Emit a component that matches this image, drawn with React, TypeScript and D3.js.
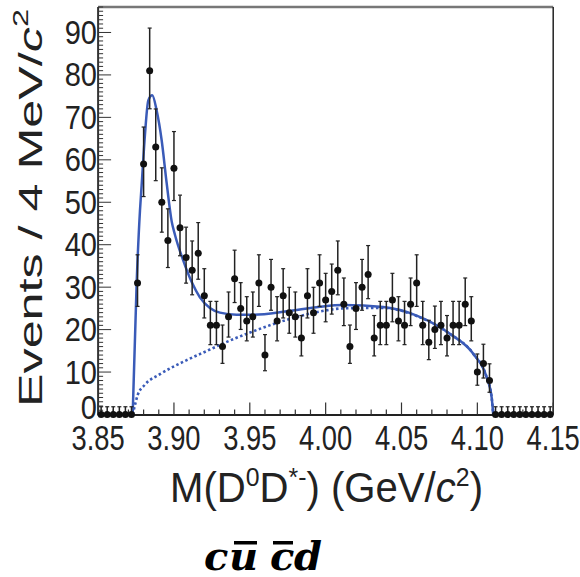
import React from 'react';
import * as d3 from 'd3';

// Events per 4 MeV bin, bins from 3.850 to 4.150 GeV
const counts: number[] = [
  0, 0, 0, 0, 0, 0,
  31, 59, 81, 63, 50, 41, 58, 44, 37, 34, 38, 28, 21, 21,
  16, 23, 32, 25, 22, 23, 31, 14, 30, 22, 28, 24, 23, 18,
  28, 24, 31, 27, 29, 34, 26, 16, 25, 30, 33, 18, 21, 21,
  27, 22, 21, 26, 31, 21, 17, 20, 21, 18, 21, 21, 26, 22,
  10, 12, 8,
  0, 0, 0, 0, 0, 0, 0, 0, 0, 0,
];
const binStart = 3.85;
const binWidth = 0.004;

// total fit curve
const fitMass: number[] = [3.8728, 3.8754, 3.8776, 3.8787, 3.8809, 3.8831, 3.8857, 3.8886, 3.8919, 3.8952, 3.8985, 3.9007, 3.9061, 3.9117, 3.9171, 3.9237, 3.9303, 3.9413, 3.9523, 3.9743, 3.9962, 4.0116, 4.038, 4.06, 4.0819, 4.0973, 4.1061, 4.1094, 4.1105];
const fitTotal: number[] = [0, 30.8, 48, 54, 66, 74, 75.2, 71.6, 64.6, 54.5, 45.5, 42.3, 36.3, 31.2, 27.6, 25.1, 24, 23.5, 23.5, 24.3, 25.4, 25.8, 25.3, 23.3, 19, 14.3, 8.8, 4.1, 0];

// background curve (dotted)
const bkgMass: number[] = [3.8728, 3.8745, 3.876, 3.8808, 3.8908, 3.9084, 3.9237, 3.9303, 3.9523, 3.9743, 3.9941, 4.0116, 4.038, 4.06, 4.0819, 4.0973, 4.1061, 4.1094, 4.1105];
const bkgValue: number[] = [0, 2.5, 4.5, 7.0, 9.5, 12.8, 15.3, 16.4, 19.6, 22.3, 24.1, 25.0, 25.1, 23.2, 19.0, 14.3, 8.8, 4.1, 0];

const xTickValues: number[] = [3.85, 3.9, 3.95, 4.0, 4.05, 4.1, 4.15];
const xTickLabels: string[] = ['3.85', '3.90', '3.95', '4.00', '4.05', '4.10', '4.15'];
const yTickValues: number[] = [0, 10, 20, 30, 40, 50, 60, 70, 80, 90];

function poissonUp(n: number) {
  const m = n + 1;
  return m * Math.pow(1 - 1 / (9 * m) + 1 / (3 * Math.sqrt(m)), 3) - n;
}
function poissonLow(n: number) {
  if (n === 0) return 0;
  return n - n * Math.pow(1 - 1 / (9 * n) - 1 / (3 * Math.sqrt(n)), 3);
}

export default function App() {
  const W = 580, H = 577;
  const x = d3.scaleLinear().domain([3.85, 4.15]).range([98.1, 553.2]);
  const y = d3.scaleLinear().domain([0, 96]).range([414.5, 7]);
  const blue = '#3a5bb8';
  const font = '"Liberation Sans", Arial, Helvetica, sans-serif';

  const line = d3.line<[number, number]>()
    .x(d => x(d[0]))
    .y(d => y(d[1]))
    .curve(d3.curveMonotoneX);

  const totalPath = line(fitMass.map((m, i) => [m, fitTotal[i]] as [number, number])) || '';
  const bkgPath = line(bkgMass.map((m, i) => [m, bkgValue[i]] as [number, number])) || '';

  const xMinor = d3.range(0, 31).map(i => ({ v: 3.85 + i * 0.01, major: i % 5 === 0 }));
  const yMinor = d3.range(0, 97).map(i => ({ v: i, major: i % 10 === 0 }));

  const points = counts.map((n, i) => ({
    m: binStart + binWidth * (i + 0.5),
    n,
    up: poissonUp(n),
    lo: poissonLow(n),
  }));

  const x0 = x(3.85), x1 = x(4.15), yb = y(0), yt = y(96);

  return (
    <svg width={W} height={H} style={{ position: 'absolute', left: 0, top: 0, background: '#fff' }} fontFamily={font}>
      <rect x={0} y={0} width={W} height={H} fill="#fff" />
      {/* frame */}
      <line x1={x0} x2={x1} y1={yt} y2={yt} stroke="#777" strokeWidth={2.5} />
      <line x1={x1} x2={x1} y1={yt} y2={yb} stroke="#222" strokeWidth={1.5} />
      <line x1={x0} x2={x0} y1={yt} y2={yb + 1} stroke="#333" strokeWidth={2} />
      <line x1={x0} x2={x1} y1={yb + 0.5} y2={yb + 0.5} stroke="#222" strokeWidth={2} />

      {/* ticks */}
      {xMinor.map((t, i) => (
        <line key={'xt' + i} x1={x(t.v)} x2={x(t.v)} y1={yb} y2={yb - (t.major ? 12 : 5)} stroke="#333" strokeWidth={1.2} />
      ))}
      {yMinor.map((t, i) => (
        <line key={'yt' + i} x1={x0} x2={x0 + (t.major ? 13 : 5)} y1={y(t.v)} y2={y(t.v)} stroke="#333" strokeWidth={1} />
      ))}

      {/* tick labels */}
      {xTickValues.map((v, i) => (
        <text key={'xl' + i} transform={`translate(${x(v)},450) scale(0.76,1)`} textAnchor="middle" fontSize={36} fill="#222">
          {xTickLabels[i]}
        </text>
      ))}
      {yTickValues.map((v, i) => (
        <text key={'yl' + i} transform={`translate(97,${v === 0 ? 419 : y(v) + 11.5}) scale(0.88,1)`} textAnchor="end" fontSize={33} fill="#222">
          {String(v)}
        </text>
      ))}

      {/* curves */}
      <path d={bkgPath} fill="none" stroke={blue} strokeWidth={2.6} strokeDasharray="2.5,2.5" />
      <path d={totalPath} fill="none" stroke={blue} strokeWidth={2.5} />

      {/* data points */}
      {points.map((p, i) => {
        const cx = x(p.m);
        const cy = y(p.n);
        const yu = y(p.n + p.up);
        const yl = y(p.n - p.lo);
        return (
          <g key={'p' + i}>
            <line x1={x(p.m - binWidth / 2)} x2={x(p.m + binWidth / 2)} y1={cy} y2={cy} stroke="#222" strokeWidth={1.5} />
            <line x1={cx} x2={cx} y1={yu} y2={yl} stroke="#222" strokeWidth={1.5} />
            <line x1={cx - 2} x2={cx + 2} y1={yu} y2={yu} stroke="#222" strokeWidth={1.2} />
            {p.n > 0 && <line x1={cx - 2} x2={cx + 2} y1={yl} y2={yl} stroke="#222" strokeWidth={1.2} />}
            <circle cx={cx} cy={cy} r={3.5} fill="#111" />
          </g>
        );
      })}

      {/* axis titles */}
      <text transform="translate(42,407) rotate(-90)" fontSize={34} fill="#222" textLength={398} lengthAdjust="spacingAndGlyphs">
        Events / 4 MeV/<tspan fontStyle="italic">c</tspan><tspan dy={-14} fontSize={22}>2</tspan>
      </text>
      <text x={170} y={502} fontSize={42} fill="#222" textLength={313} lengthAdjust="spacingAndGlyphs">
        M(D<tspan dy={-16} fontSize={26}>0</tspan><tspan dy={16}>D</tspan><tspan dy={-16} fontSize={26}>*-</tspan><tspan dy={16}>) (GeV/</tspan><tspan fontStyle="italic">c</tspan><tspan dy={-16} fontSize={26}>2</tspan><tspan dy={16}>)</tspan>
      </text>

      {/* quark content */}
      <g fontFamily='"DejaVu Serif", "Liberation Serif", serif' fontWeight="bold" fontStyle="italic" fontSize={40} fill="#000">
        <text x={204} y={570}>c</text>
        <text x={229} y={570}>u</text>
        <text x={270} y={570}>c</text>
        <text x={294} y={570}>d</text>
      </g>
      <rect x={234} y={541} width={23} height={3.5} fill="#000" />
      <rect x={273} y={541} width={20} height={3.5} fill="#000" />
    </svg>
  );
}
